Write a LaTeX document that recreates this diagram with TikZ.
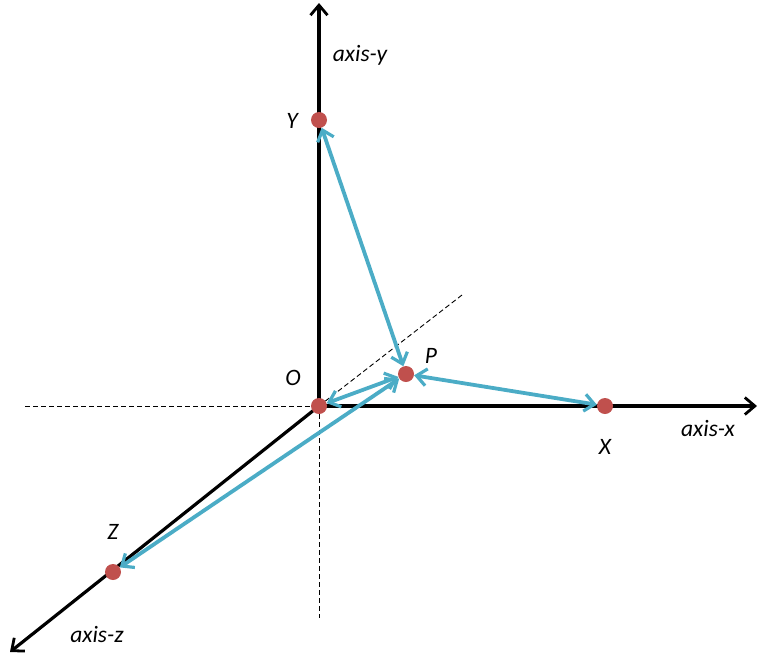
\documentclass[tikz,border=0pt]{standalone}
\usepackage{fontspec}
\setmainfont{Carlito}
\usetikzlibrary{arrows.meta}
\definecolor{dotred}{HTML}{C0504D}
\definecolor{linkblue}{HTML}{4BACC6}
\tikzset{
  dot/.style={circle,fill=dotred,draw=none,inner sep=0pt,minimum size=16pt},
  axisline/.style={line width=3.2pt,draw=black,-{Straight Barb[length=10pt,width=17pt,line width=2.8pt]}},
  guide/.style={draw=black,line width=0.9pt,dash pattern=on 5pt off 3pt},
  link/.style={line width=3.8pt,draw=linkblue,{Straight Barb[length=10pt,width=17pt,line width=3.2pt]}-{Straight Barb[length=10pt,width=17pt,line width=3.2pt]}},
  lab/.style={font=\fontsize{23.5}{27}\selectfont\itshape,inner sep=0pt}
}
\begin{document}
\begin{tikzpicture}[x=1pt,y=-1pt]
\useasboundingbox (0,0) rectangle (758,657);
% coordinates
\coordinate (Oc) at (319,406);
\coordinate (ytip) at (319,3);
\coordinate (xtip) at (757,406);
\coordinate (ztip) at (10,652);
\coordinate (xneg) at (25,406);
\coordinate (yneg) at (319,618);
\coordinate (zneg) at (462,295);
% guides
\draw[guide] (xneg) -- (Oc);
\draw[guide] (Oc) -- (yneg);
\draw[guide] (Oc) -- (zneg);
% axes
\draw[axisline] (Oc) -- (ytip);
\draw[axisline] (Oc) -- (xtip);
\draw[axisline] (Oc) -- (ztip);
% points
\node[dot] (O) at (319,406) {};
\node[dot] (Y) at (319,120) {};
\node[dot] (X) at (605,406) {};
\node[dot] (Z) at (113,572) {};
\node[dot] (P) at (406,374) {};
% links
\draw[link] (Y) -- (P);
\draw[link] (P) -- (X);
\draw[link] (O) -- (P);
\draw[link] (Z) -- (P);
% labels
\node[lab] (ly) at (360,55) {axis-y};
\node[lab] (lY) at (292,121) {Y};
\node[lab] (lO) at (293,378) {O};
\node[lab] (lP) at (431,356) {P};
\node[lab] (lX) at (605,447) {X};
\node[lab] (lx) at (708,428) {axis-x};
\node[lab] (lZ) at (113,532) {Z};
\node[lab] (lz) at (97,634) {axis-z};
\end{tikzpicture}
\end{document}
